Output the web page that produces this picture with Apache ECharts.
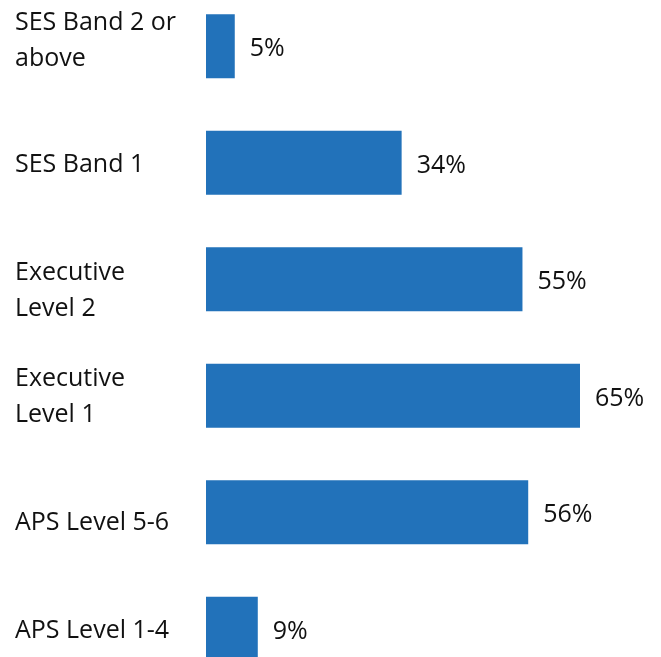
<!DOCTYPE html>
<html>
<head>
<meta charset="utf-8">
<script src="https://cdn.jsdelivr.net/npm/echarts@6/dist/echarts.min.js"></script>
<style>
  html, body { margin: 0; padding: 0; background: #fff; overflow: hidden; width: 661px; height: 657px; }
  /* the bottom row runs past the lower edge, so the drawing area is taller than the page */
  #chart { position: absolute; left: 0; top: -12px; width: 661px; height: 699px; }
</style>
</head>
<body>
<div id="chart"></div>
<script>
// Share of staff by classification level (%)
const categories = [
  'SES Band 2 or\nabove',
  'SES Band 1',
  'Executive\nLevel 2',
  'Executive\nLevel 1',
  'APS Level 5-6',
  'APS Level 1-4'
];
const values = [5, 34, 55, 65, 56, 9];

// vertical nudge (px) of each category label relative to its bar centre
const labelNudge = [-5.5, 2.5, 12, 1.5, 11, 2.5];

const FONT = '"Open Sans", "Noto Sans", sans-serif';

// a blank spacer line above (push down) or below (push up) the label text
const rich = {
  t: { fontFamily: FONT, fontSize: 25, lineHeight: 36, color: '#111111' }
};
labelNudge.forEach((d, i) => {
  rich['sp' + i] = { fontSize: 1, lineHeight: Math.abs(d) * 2, height: Math.abs(d) * 2 };
});

function categoryLabel(value, index) {
  const d = labelNudge[index];
  const lines = value.split('\n').map(s => '{t|' + s + '}');
  const spacer = '{sp' + index + '| }';
  if (d > 0) lines.unshift(spacer);
  else if (d < 0) lines.push(spacer);
  return lines.join('\n');
}

const chart = echarts.init(document.getElementById('chart'), null, { renderer: 'canvas' });
chart.setOption({
  animation: false,
  backgroundColor: '#ffffff',
  grid: { left: 206, top: 0, width: 374, bottom: 0, containLabel: false, outerBoundsMode: 'none' },
  xAxis: {
    type: 'value',
    min: 0,
    max: 65,
    show: false
  },
  yAxis: {
    type: 'category',
    data: categories,
    inverse: true,
    axisLine: { show: false },
    axisTick: { show: false },
    splitLine: { show: false },
    axisLabel: {
      align: 'left',
      margin: 191,
      formatter: categoryLabel,
      rich: rich
    }
  },
  series: [{
    type: 'bar',
    data: values,
    barWidth: 64,
    itemStyle: { color: '#2272ba' },
    label: {
      show: true,
      position: 'right',
      distance: 15,
      formatter: '{c}%',
      fontFamily: FONT,
      fontSize: 25,
      color: '#111111',
      offset: [0, 3]
    }
  }]
});
</script>
</body>
</html>
